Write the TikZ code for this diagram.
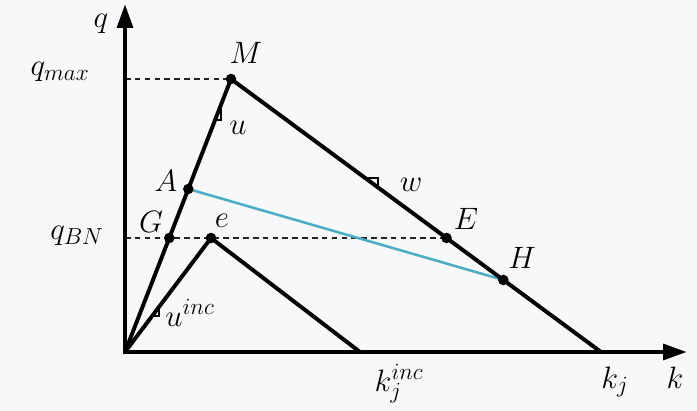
\documentclass[tikz,border=0pt]{standalone}
\usepackage{fix-cm}
\usepackage{tikz}
\usepackage{xcolor}
\usetikzlibrary{arrows.meta,positioning,calc}
\DeclareMathSizes{22}{22}{16.5}{12}
\definecolor{Ink}{HTML}{000000}
\definecolor{Back}{HTML}{F7F8FA}
\definecolor{Guide}{HTML}{222222}
\definecolor{Chord}{HTML}{4BACC6}
\tikzset{
  axis/.style={-{Triangle[length=17pt,width=11pt]},draw=Ink,line width=3.2pt},
  edge/.style={draw=Ink,line width=2.8pt,line join=round},
  guide/.style={draw=Guide,line width=0.8pt,dash pattern=on 4pt off 3pt},
  chord/.style={draw=Chord,line width=1.8pt},
  slope/.style={draw=Ink,line width=0.9pt},
  dot/.style={circle,fill=Ink,inner sep=0pt,minimum size=7.5pt},
  lbl/.style={font=\fontsize{22}{26}\selectfont,text=Ink,inner sep=0pt}
}
\begin{document}
\begin{tikzpicture}[x=0.025cm,y=-0.025cm]
  \fill[Back] (0,0) rectangle (697,411);
  \useasboundingbox (0,0) rectangle (697,411);
  % points of the diagram
  \coordinate (O) at (125,352);
  \coordinate (qtip) at (125,4);
  \coordinate (ktip) at (687,352);
  \coordinate (M) at (231,79);
  \coordinate (A) at (188.3,189);
  \coordinate (G) at (169.3,238);
  \coordinate (e) at (211,238);
  \coordinate (E) at (446.5,238);
  \coordinate (H) at (503.4,280);
  \coordinate (kj) at (601,352);
  \coordinate (kinc) at (360,352);
  \coordinate (qmax) at (125,79);
  \coordinate (qbn) at (125,238);
  % guides
  \draw[guide] (qmax) -- (M);
  \draw[guide] (qbn) -- (E);
  \draw[chord] (A) -- (H);
  % triangles
  \draw[edge] (O) -- (M) -- (kj);
  \draw[edge] (O) -- (e) -- (kinc);
  % slope marks
  \draw[slope] (215.1,120) -- (221,120) -- (221,105.5);
  \draw[slope] (365.6,178) -- (378,178) -- (378,187.5);
  \draw[slope] (152.2,316) -- (159,316) -- (159,307);
  % axes
  \draw[axis] ([yshift=-1.6pt]O) -- (qtip);
  \draw[axis] ([xshift=-1.6pt]O) -- (ktip);
  \foreach \p in {M,A,G,e,E,H}
    \node[dot] (dot\p) at (\p) {};
  % labels
  \node[lbl] (labq) at (101,24) {$q$};
  \node[lbl] (labqmax) at (60,72) {$q_{max}$};
  \node[lbl] (labqbn) at (77,236) {$q_{BN}$};
  \node[lbl] (labM) at (246,53) {$M$};
  \node[lbl] (labu) at (238,128) {$u$};
  \node[lbl] (labA) at (166,181) {$A$};
  \node[lbl] (labG) at (151,222) {$G$};
  \node[lbl] (labe) at (222,221) {$e$};
  \node[lbl] (labw) at (411,185) {$w$};
  \node[lbl] (labE) at (466,219) {$E$};
  \node[lbl] (labH) at (522,258) {$H$};
  \node[lbl] (labuinc) at (190,313) {$u^{inc}$};
  \node[lbl] (labkinc) at (399,384) {$k_j^{inc}$};
  \node[lbl] (labkj) at (615,382) {$k_j$};
  \node[lbl] (labk) at (675,378) {$k$};
\end{tikzpicture}
\end{document}
